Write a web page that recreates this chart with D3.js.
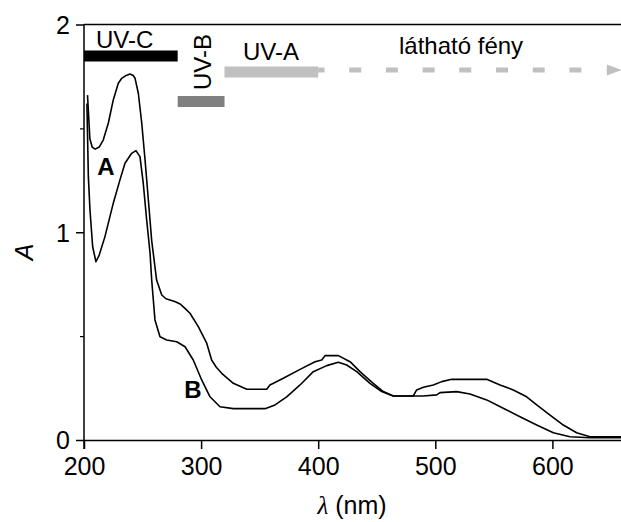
<!doctype html>
<html lang="hu">
  <head>
    <meta charset="UTF-8" />
    <title>Abszorpciós spektrum</title>
    <script src="https://d3js.org/d3.v7.min.js"></script>
    <style>
      body { margin: 0; background: #fff; }
      svg text { font-family: "Liberation Sans", Arial, Helvetica, sans-serif; fill: #000; }
    </style>
  </head>
  <body>
    <svg id="chart" width="621" height="522"></svg>
  <script>
    // spektrumok (nm, abszorbancia) - leolvasva az ábráról
    const wavelengthA = [203, 205, 207, 209.5, 213, 216.5, 220.8, 225, 229.3, 232.2, 236, 239.3, 242, 243.6, 246.4, 249.3, 252.1, 254.9, 257.8, 262, 266.4, 270, 273.4, 278, 282, 286, 290.5, 297.6, 304.8, 309, 313, 317.6, 327.5, 339, 356, 358.8, 370.2, 384.5, 397.3, 403, 405.8, 417.2, 427.2, 435.7, 447, 455.6, 464.1, 481.2, 484.1, 489.8, 498.3, 505.5, 514, 543.9, 555.3, 566.6, 578, 586.6, 598, 609.3, 620.7, 632.1, 660];
    const absorbA = [1.66, 1.45, 1.41, 1.40, 1.41, 1.445, 1.526, 1.637, 1.717, 1.741, 1.755, 1.762, 1.755, 1.741, 1.669, 1.526, 1.35, 1.16, 0.96, 0.77, 0.698, 0.68, 0.674, 0.665, 0.655, 0.635, 0.61, 0.546, 0.466, 0.385, 0.35, 0.321, 0.273, 0.244, 0.244, 0.265, 0.297, 0.34, 0.377, 0.385, 0.406, 0.406, 0.377, 0.329, 0.273, 0.233, 0.212, 0.212, 0.241, 0.254, 0.265, 0.281, 0.292, 0.292, 0.265, 0.241, 0.208, 0.169, 0.12, 0.072, 0.035, 0.016, 0.016];

    const wavelengthB = [202.5, 203.7, 205.1, 207.4, 210.2, 213, 217.9, 225, 230.7, 235, 240.7, 244.4, 247.8, 250.6, 253.5, 256.4, 257.8, 260.6, 264.9, 270.6, 279.2, 286.3, 293.3, 300.5, 307.6, 316.1, 327.5, 354.6, 363.1, 373.1, 384.5, 395.8, 407.3, 417.2, 424.3, 432.9, 444.2, 454.2, 464.1, 489.8, 501.2, 504, 518.3, 529.6, 543.9, 558, 572.3, 586.6, 600.8, 615, 632.1, 660];
    const absorbB = [1.62, 1.27, 1.107, 0.93, 0.858, 0.89, 0.979, 1.14, 1.252, 1.332, 1.38, 1.393, 1.364, 1.236, 1.06, 0.9, 0.77, 0.578, 0.497, 0.481, 0.473, 0.449, 0.385, 0.289, 0.208, 0.16, 0.151, 0.151, 0.169, 0.208, 0.265, 0.329, 0.358, 0.374, 0.361, 0.329, 0.273, 0.233, 0.212, 0.212, 0.217, 0.228, 0.233, 0.221, 0.193, 0.153, 0.112, 0.072, 0.035, 0.016, 0.011, 0.011];

    const xTicks = [200, 300, 400, 500, 600];
    const yTicks = [0, 1, 2];
    const yMinorTicks = [0.5, 1.5];

    // UV sávok
    const bandNames = ["UV-C", "UV-B", "UV-A"];
    const bandFrom = [200, 280, 320];
    const bandTo = [280, 320, 400];
    const bandColors = ["#000000", "#808080", "#c0c0c0"];
    const visibleRange = [400, 659];

    const svg = d3.select("#chart");
    const mLeft = 84, mTop = 24.5, mBottom = 440;

    const x = d3.scaleLinear().domain([200, 660]).range([mLeft, mLeft + 460 * 1.171]);
    const y = d3.scaleLinear().domain([0, 2]).range([mBottom, mTop]);

    // tengelyek
    svg.append("g")
      .attr("transform", `translate(0,${mBottom})`)
      .call(d3.axisBottom(x).tickValues(xTicks).tickSize(9).tickSizeOuter(0).tickPadding(8))
      .call(g => g.select(".domain").attr("d", `M${mLeft},0.5H621`).attr("stroke-width", 1.5))
      .call(g => g.selectAll("line").attr("stroke-width", 1.5))
      .call(g => g.selectAll("text").attr("font-size", 25).attr("font-family", null));

    svg.append("g")
      .attr("transform", `translate(${mLeft},0)`)
      .call(d3.axisLeft(y).tickValues(yTicks).tickFormat(d3.format("d")).tickSize(8).tickSizeOuter(0).tickPadding(6))
      .call(g => g.select(".domain").attr("d", `M0,${mTop}V${mBottom + 9}`).attr("stroke-width", 1.5))
      .call(g => g.selectAll("line").attr("stroke-width", 1.5))
      .call(g => g.selectAll("text").attr("font-size", 25).attr("font-family", null).attr("dy", "0.35em"));

    svg.append("g")
      .attr("transform", `translate(${mLeft},0)`)
      .call(d3.axisLeft(y).tickValues(yMinorTicks).tickSize(4).tickFormat(""))
      .call(g => g.select(".domain").remove())
      .call(g => g.selectAll("line").attr("stroke-width", 1.2));

    // felső keret
    svg.append("line")
      .attr("x1", mLeft).attr("x2", 621)
      .attr("y1", mTop).attr("y2", mTop)
      .attr("stroke", "#000").attr("stroke-width", 1.5);

    // görbék
    const line = d3.line().x(d => x(d[0])).y(d => y(d[1]));
    [[wavelengthA, absorbA], [wavelengthB, absorbB]].forEach(([w, a]) => {
      svg.append("path")
        .datum(w.map((v, i) => [v, a[i]]))
        .attr("d", line)
        .attr("fill", "none")
        .attr("stroke", "#000")
        .attr("stroke-width", 1.6)
        .attr("stroke-linejoin", "round");
    });

    // sávok
    const bandY = [56, 101.5, 72];
    bandNames.forEach((name, i) => {
      svg.append("rect")
        .attr("x", x(bandFrom[i]))
        .attr("width", x(bandTo[i]) - x(bandFrom[i]))
        .attr("y", bandY[i] - 5.5)
        .attr("height", 11)
        .attr("fill", bandColors[i]);
    });

    svg.append("text").attr("x", 96).attr("y", 47.5).attr("font-size", 24).text("UV-C");
    svg.append("text").attr("x", 243).attr("y", 60).attr("font-size", 24).text("UV-A");
    svg.append("text")
      .attr("transform", "translate(211,90) rotate(-90)")
      .attr("font-size", 24).text("UV-B");

    // látható fény nyíl
    svg.append("line")
      .attr("x1", x(visibleRange[0])).attr("x2", x(646))
      .attr("y1", 70).attr("y2", 70)
      .attr("stroke", "#c0c0c0").attr("stroke-width", 5)
      .attr("stroke-dasharray", "12,24.7")
      .attr("stroke-dashoffset", 5.7);
    svg.append("path")
      .attr("d", `M${x(646.5)},64.5L${x(visibleRange[1])},70L${x(646.5)},75.5Z`)
      .attr("fill", "#c0c0c0");
    svg.append("text").attr("x", 399).attr("y", 53.5).attr("font-size", 24).text("látható fény");

    // görbe címkék
    svg.append("text").attr("x", 106).attr("y", 175).attr("text-anchor", "middle")
      .attr("font-size", 24).attr("font-weight", "bold").text("A");
    svg.append("text").attr("x", 193).attr("y", 398).attr("text-anchor", "middle")
      .attr("font-size", 24).attr("font-weight", "bold").text("B");

    // tengelyfeliratok
    svg.append("text")
      .attr("transform", "translate(33,252) rotate(-90)")
      .attr("text-anchor", "middle")
      .attr("font-size", 25).attr("font-style", "italic").text("A");

    const xl = svg.append("text").attr("x", 352).attr("y", 513.5)
      .attr("text-anchor", "middle").attr("font-size", 25);
    xl.append("tspan").attr("font-family", "'Liberation Serif', 'DejaVu Serif', serif")
      .attr("font-style", "italic").text("λ");
    xl.append("tspan").text(" (nm)");
  </script>
  </body>
</html>
